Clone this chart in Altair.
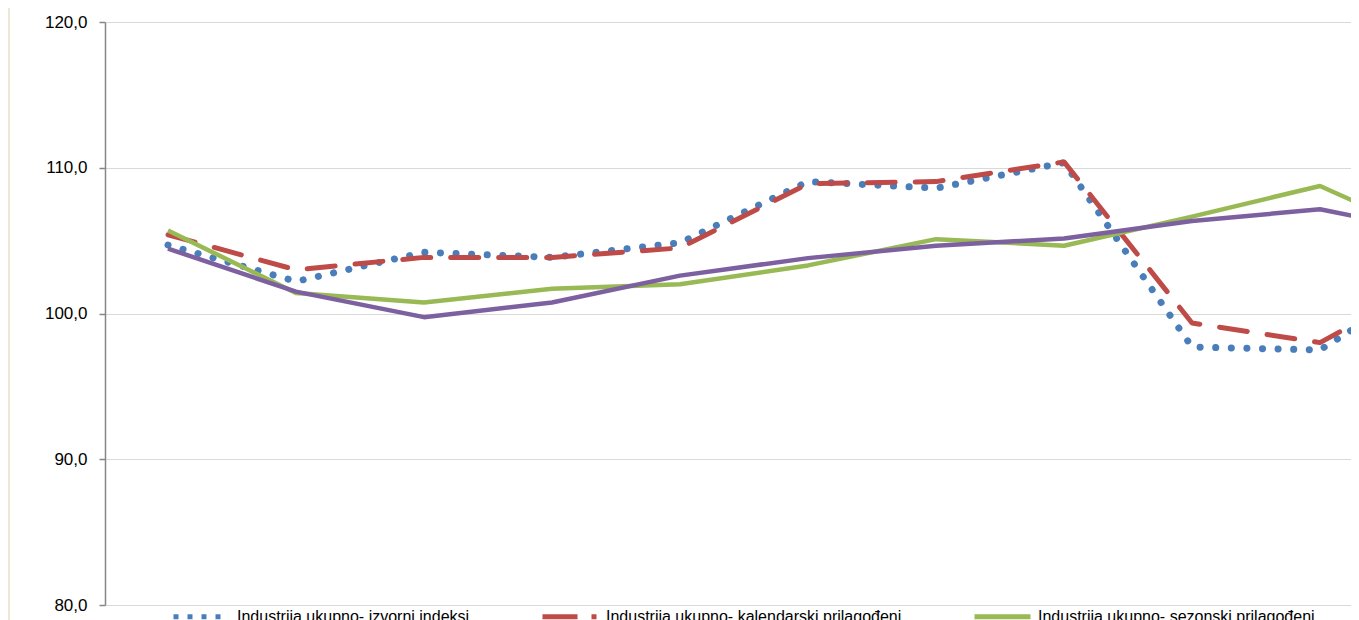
import altair as alt
import pandas as pd

# ---- data ----
idx = list(range(11))
series_names = [
    "Industrija ukupno- izvorni indeksi",
    "Industrija ukupno- kalendarski prilagođeni",
    "Industrija ukupno- sezonski prilagođeni",
    "Industrija ukupno- trend",
]
blue = [104.7, 102.2, 104.2, 103.85, 104.85, 109.05, 108.6, 110.35, 97.7, 97.5, 103.0]
red = [105.4, 103.0, 103.85, 103.85, 104.5, 108.9, 109.05, 110.4, 99.35, 98.0, 102.8]
green = [105.7, 101.4, 100.75, 101.7, 102.0, 103.3, 105.1, 104.65, 106.65, 108.75, 104.8]
purple = [104.45, 101.5, 99.75, 100.75, 102.6, 103.8, 104.65, 105.15, 106.35, 107.15, 105.4]
y_ticks = [80, 90, 100, 110, 120]

colors = ["#4a7ebb", "#be4b48", "#98b954", "#7d60a0"]

rows = []
for name, vals in zip(series_names, [blue, red, green, purple]):
    for i, v in zip(idx, vals):
        rows.append({"i": i, "v": v, "s": name})
df = pd.DataFrame(rows)

FONT = "Liberation Sans"

x = alt.X("i:Q", scale=alt.Scale(domain=[-0.492, 9.242], nice=False, zero=False), axis=None)
y = alt.Y(
    "v:Q",
    scale=alt.Scale(domain=[80, 120], nice=False, zero=False),
    axis=alt.Axis(
        values=y_ticks,
        labelExpr="replace(format(datum.value, '.1f'), '.', ',')",
        title=None,
        grid=True,
        gridColor="#d9d9d9",
        gridWidth=1,
        domainColor="#868686",
        domainWidth=1.5,
        tickColor="#868686",
        tickWidth=1.5,
        tickSize=6,
        labelPadding=12,
        labelFont=FONT,
        labelFontSize=17,
        labelColor="#000000",
    ),
)

styles = [
    dict(strokeDash=[0.1, 15.5], strokeWidth=7, strokeCap="round"),
    dict(strokeDash=[28, 20], strokeWidth=5, strokeCap="round"),
    dict(strokeWidth=4.5, strokeCap="butt"),
    dict(strokeWidth=4.5, strokeCap="butt"),
]

layers = []
for name, col, st in zip(series_names, colors, styles):
    layers.append(
        alt.Chart(df)
        .transform_filter(alt.datum.s == name)
        .mark_line(color=col, clip=True, strokeJoin="round", **st)
        .encode(x=x, y=y)
    )

leg = alt.Legend(
    title=None,
    orient="none",
    legendX=66,
    legendY=564,
    direction="horizontal",
    columns=3,
    symbolType="stroke",
    symbolSize=3136,
    symbolStrokeWidth=5,
    labelFont=FONT,
    labelFontSize=16,
    labelColor="#000000",
    labelLimit=500,
    labelOffset=5,
    columnPadding=62,
    padding=0,
)

legend_layer = (
    alt.Chart(df)
    .transform_filter("datum.v > 1000")
    .mark_line()
    .encode(
        x=x,
        y=y,
        color=alt.Color("s:N", scale=alt.Scale(domain=series_names, range=colors), legend=leg),
        strokeDash=alt.StrokeDash(
            "s:N",
            scale=alt.Scale(domain=series_names, range=[[5, 9], [35, 14, 5, 30], [1, 0], [1, 0]]),
            legend=leg,
        ),
    )
)

border = alt.Chart(df).mark_rule(color="#ece8d5", strokeWidth=2, clip=False).encode(
    x=alt.value(-96), y=alt.value(-30), y2=alt.value(640)
)

chart = (
    alt.layer(border, *layers, legend_layer)
    .properties(
        width=1246,
        height=583,
        padding={"left": 97, "top": 14, "right": 0, "bottom": 15},
        autosize=alt.AutoSizeParams(type="none"),
        background="#ffffff",
    )
    .configure_view(stroke=None)
)

chart.save("out.html", embed_options={"renderer": "svg", "actions": False})
